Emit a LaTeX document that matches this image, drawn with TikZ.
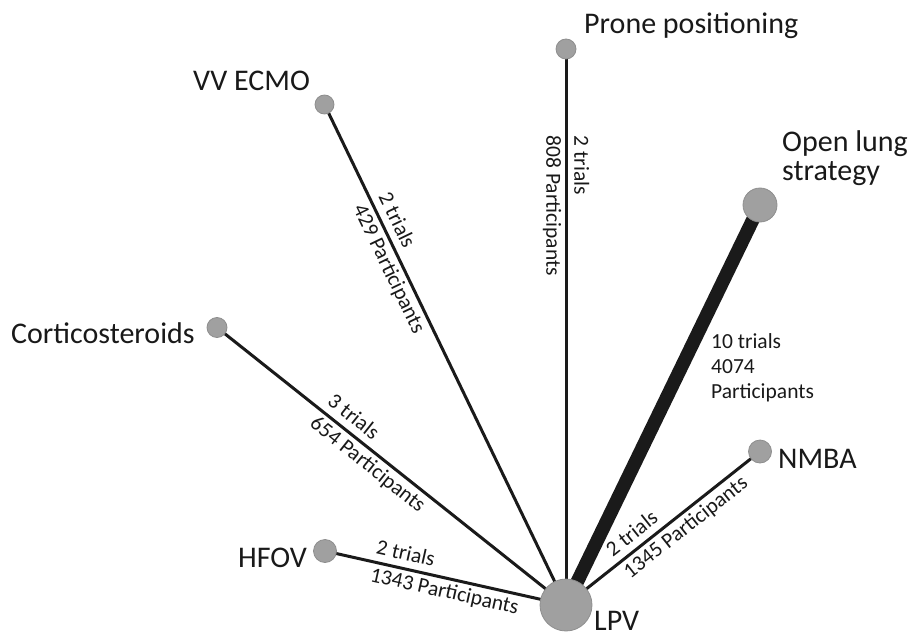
\documentclass[tikz,border=0pt]{standalone}
\usepackage{fontspec}
\setmainfont{Carlito}
\usetikzlibrary{backgrounds}
\definecolor{nodegray}{HTML}{A0A0A0}
\definecolor{nodeline}{HTML}{8E8E8E}
\definecolor{linkblack}{HTML}{1A1A1A}
\newcommand{\trtfont}{\fontsize{30}{29}\selectfont}
\newcommand{\evfont}{\fontsize{21.5}{28}\selectfont}
\begin{document}
\begin{tikzpicture}[x=1pt,y=-1pt,
  trt/.style={circle,fill=nodegray,draw=nodeline,line width=0.8pt,inner sep=0pt,minimum size=#1},
  trtname/.style={font=\trtfont,inner sep=0pt,text=black!90},
  link/.style={draw=linkblack,line width=3pt},
  ev/.style={font=\evfont,sloped,align=left,inner sep=0pt,text=black!90}]
  \useasboundingbox (0,0) rectangle (915,634);
  % treatments
  \node[trt=52pt] (lpv) at (566,605) {};
  \node[trt=20pt] (prone) at (566,49) {};
  \node[trt=19pt] (ecmo) at (324.5,104.5) {};
  \node[trt=34pt] (olung) at (760,205) {};
  \node[trt=20pt] (cort) at (217,327.5) {};
  \node[trt=23pt] (nmba) at (760,451.5) {};
  \node[trt=23pt] (hfov) at (325,551) {};
  % names
  \node[trtname,anchor=base west] (lpvname) at (594,630) {LPV};
  \node[trtname,anchor=base west] (pronename) at (584,34) {Prone positioning};
  \node[trtname,anchor=base west] (ecmoname) at (193,90) {VV ECMO};
  \node[trtname,anchor=north west,align=left] (olungname) at (782,130) {Open lung\\strategy};
  \node[trtname,anchor=base west] (cortname) at (11,343) {Corticosteroids};
  \node[trtname,anchor=base west] (nmbaname) at (778,468) {NMBA};
  \node[trtname,anchor=base west] (hfovname) at (238,567) {HFOV};
  % comparisons
  \begin{scope}[on background layer]
    \draw[link] (prone.center) -- (lpv.center)
      node[ev,pos=0.282] (prone-ev) {2 trials\\808 Participants};
    \draw[link] (ecmo.center) -- (lpv.center)
      node[ev,pos=0.317] (ecmo-ev) {2 trials\\429 Participants};
    \draw[link] (cort.center) -- (lpv.center)
      node[ev,pos=0.456] (cort-ev) {3 trials\\654 Participants};
    \draw[link] (hfov.center) -- (lpv.center)
      node[ev,pos=0.508] (hfov-ev) {2 trials\\1343 Participants};
    \draw[link] (nmba.center) -- (lpv.center)
      node[ev,pos=0.426] (nmba-ev) {2 trials\\1345 Participants};
    \draw[link,line width=13.5pt] (olung.center) -- (lpv.center);
  \end{scope}
  \node[font=\fontsize{21.5}{25}\selectfont,align=left,anchor=north west,inner sep=0pt,text=black!90]
    (olung-ev) at (711,333) {10 trials\\4074\\Participants};
\end{tikzpicture}
\end{document}
